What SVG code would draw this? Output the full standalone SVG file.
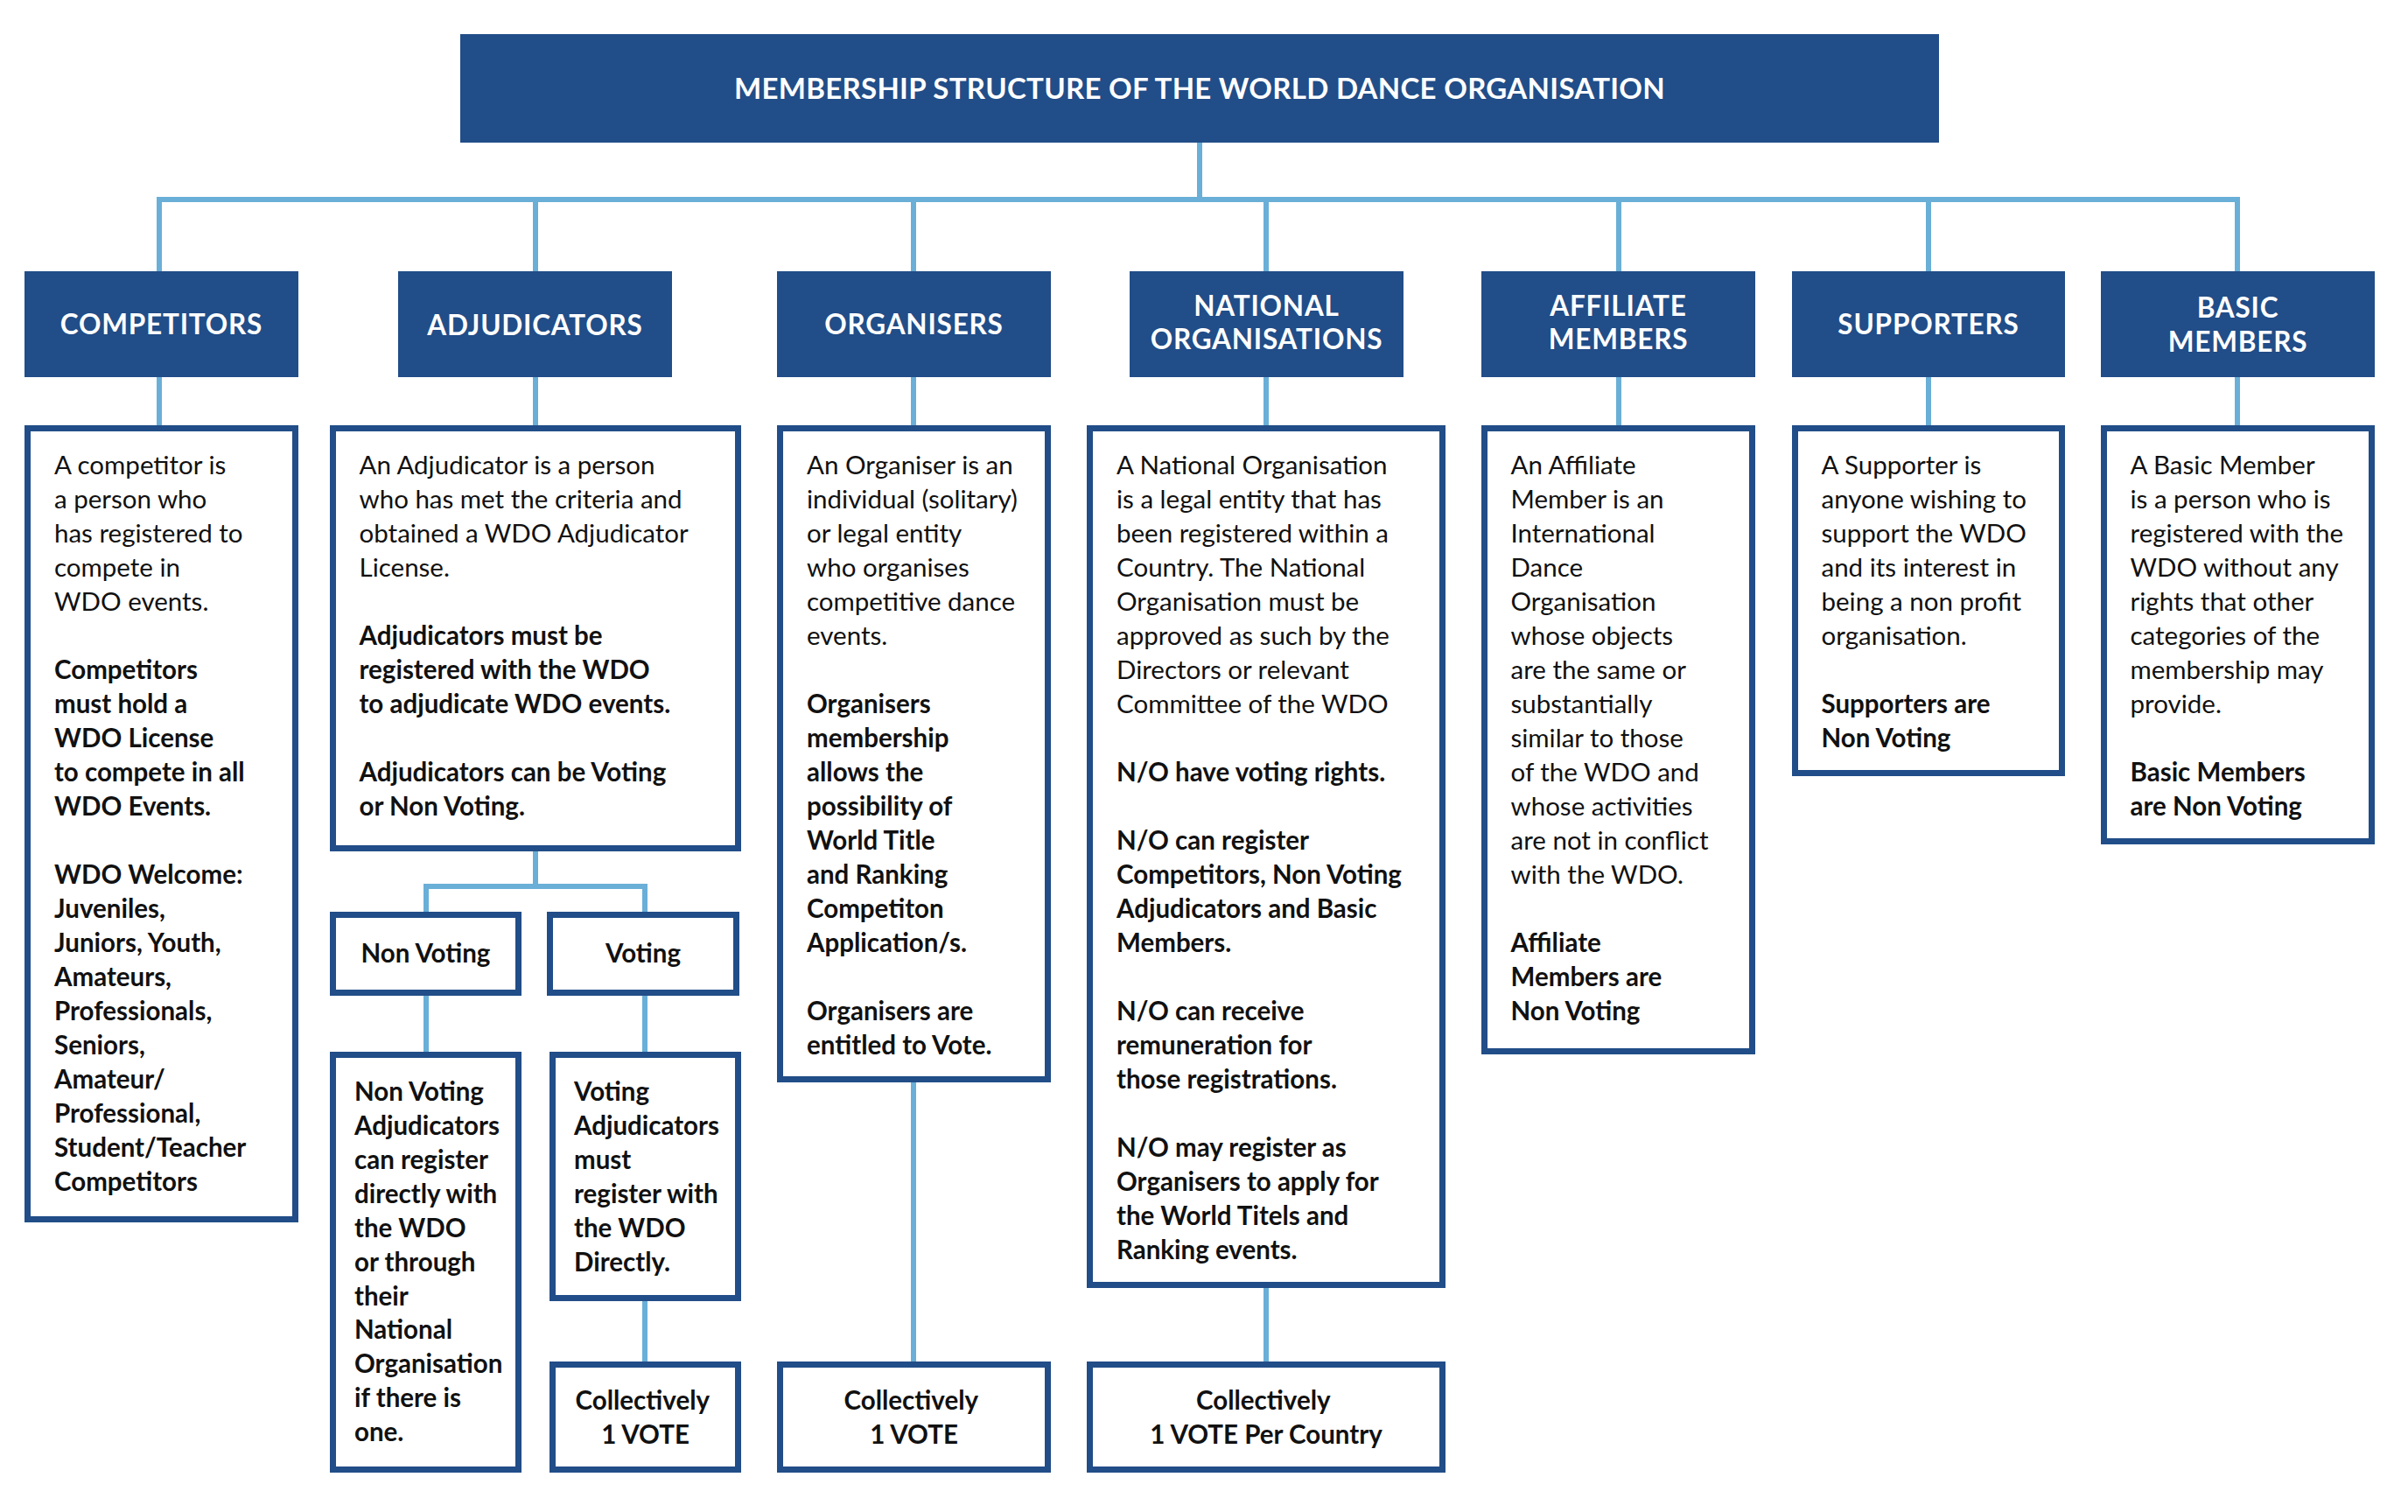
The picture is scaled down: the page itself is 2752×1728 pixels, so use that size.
<svg xmlns="http://www.w3.org/2000/svg" width="2752" height="1728" viewBox="0 0 2752 1728">
<style>
.bg{fill:#ffffff}
.hdr{fill:#214d88}
.box{fill:#ffffff;stroke:#214d88;stroke-width:7}
.conn{fill:none;stroke:#6aafd7;stroke-width:6;stroke-linejoin:miter;stroke-linecap:butt}
.ht{font-family:Lato,"Noto Sans","Liberation Sans",sans-serif;font-weight:700;fill:#ffffff;text-anchor:middle;font-size:31.5px;letter-spacing:0.8px}
.tt{font-size:33px;letter-spacing:0.3px}
.t{font-family:Lato,"Noto Sans","Liberation Sans",sans-serif;font-size:29.5px;fill:#111111}
.b{font-weight:700}
.c{text-anchor:middle}
</style>
<rect class="bg" x="0" y="0" width="2752" height="1728"/>

<g id="connectors">
<path class="conn" d="M1371 163 V228"/>
<path class="conn" d="M182 310 V228 H2557 V310"/>
<path class="conn" d="M612 228 V310 M1044 228 V310 M1447 228 V310 M1850 228 V310 M2204 228 V310"/>
<path class="conn" d="M182 431 V486 M612 431 V486 M1044 431 V486 M1447 431 V486 M1850 431 V486 M2204 431 V486 M2557 431 V486"/>
<path class="conn" d="M612 973 V1013"/>
<path class="conn" d="M487 1043 V1013 H737 V1043"/>
<path class="conn" d="M487 1138 V1202 M737 1138 V1202 M737 1487 V1556"/>
<path class="conn" d="M1044 1237 V1556 M1447 1472 V1556"/>
</g>

<g id="title">
<rect class="hdr" x="526" y="39" width="1690" height="124"/>
<text class="ht tt" x="1371" y="113">MEMBERSHIP STRUCTURE OF THE WORLD DANCE ORGANISATION</text>
</g>

<g id="cat-competitors">
<rect class="hdr" x="28" y="310" width="313" height="121"/>
<text class="ht" x="184.5" y="381.5">COMPETITORS</text>
</g>
<g id="cat-adjudicators">
<rect class="hdr" x="455" y="310" width="313" height="121"/>
<text class="ht" x="611.5" y="382.5">ADJUDICATORS</text>
</g>
<g id="cat-organisers">
<rect class="hdr" x="888" y="310" width="313" height="121"/>
<text class="ht" x="1044.5" y="381.5">ORGANISERS</text>
</g>
<g id="cat-national">
<rect class="hdr" x="1291" y="310" width="313" height="121"/>
<text class="ht" x="1447.5" y="360.7">NATIONAL</text>
<text class="ht" x="1447.5" y="399.3">ORGANISATIONS</text>
</g>
<g id="cat-affiliate">
<rect class="hdr" x="1693" y="310" width="313" height="121"/>
<text class="ht" x="1849.5" y="360.7">AFFILIATE</text>
<text class="ht" x="1849.5" y="399.3">MEMBERS</text>
</g>
<g id="cat-supporters">
<rect class="hdr" x="2048" y="310" width="312" height="121"/>
<text class="ht" x="2204" y="381.5">SUPPORTERS</text>
</g>
<g id="cat-basic">
<rect class="hdr" x="2401" y="310" width="313" height="121"/>
<text class="ht" x="2557.5" y="362.7">BASIC</text>
<text class="ht" x="2557.5" y="402">MEMBERS</text>
</g>

<g id="desc-competitors">
<rect class="box" x="31.5" y="489.5" width="306" height="904"/>
<text class="t" x="62">
<tspan x="62" y="542">A competitor is</tspan>
<tspan x="62" y="581">a person who</tspan>
<tspan x="62" y="620">has registered to</tspan>
<tspan x="62" y="659">compete in</tspan>
<tspan x="62" y="698">WDO events.</tspan>
</text>
<text class="t b" x="62">
<tspan x="62" y="776">Competitors</tspan>
<tspan x="62" y="815">must hold a</tspan>
<tspan x="62" y="854">WDO License</tspan>
<tspan x="62" y="893">to compete in all</tspan>
<tspan x="62" y="932">WDO Events.</tspan>
<tspan x="62" y="1010">WDO Welcome:</tspan>
<tspan x="62" y="1049">Juveniles,</tspan>
<tspan x="62" y="1088">Juniors, Youth,</tspan>
<tspan x="62" y="1127">Amateurs,</tspan>
<tspan x="62" y="1166">Professionals,</tspan>
<tspan x="62" y="1205">Seniors,</tspan>
<tspan x="62" y="1244">Amateur/</tspan>
<tspan x="62" y="1283">Professional,</tspan>
<tspan x="62" y="1322">Student/Teacher</tspan>
<tspan x="62" y="1361">Competitors</tspan>
</text>
</g>

<g id="desc-adjudicators">
<rect class="box" x="380.5" y="489.5" width="463" height="480"/>
<text class="t" x="410.5">
<tspan x="410.5" y="542">An Adjudicator is a person</tspan>
<tspan x="410.5" y="581">who has met the criteria and</tspan>
<tspan x="410.5" y="620">obtained a WDO Adjudicator</tspan>
<tspan x="410.5" y="659">License.</tspan>
</text>
<text class="t b" x="410.5">
<tspan x="410.5" y="737">Adjudicators must be</tspan>
<tspan x="410.5" y="776">registered with the WDO</tspan>
<tspan x="410.5" y="815">to adjudicate WDO events.</tspan>
<tspan x="410.5" y="893">Adjudicators can be Voting</tspan>
<tspan x="410.5" y="932">or Non Voting.</tspan>
</text>
</g>

<g id="non-voting">
<rect class="box" x="380.5" y="1045.5" width="212" height="89"/>
<text class="t b c" x="486.5" y="1100">Non Voting</text>
</g>
<g id="voting">
<rect class="box" x="628.5" y="1045.5" width="213" height="89"/>
<text class="t b c" x="735" y="1100">Voting</text>
</g>

<g id="desc-non-voting">
<rect class="box" x="380.5" y="1205.5" width="212" height="474"/>
<text class="t b" x="405">
<tspan x="405" y="1258">Non Voting</tspan>
<tspan x="405" y="1297">Adjudicators</tspan>
<tspan x="405" y="1336">can register</tspan>
<tspan x="405" y="1375">directly with</tspan>
<tspan x="405" y="1414">the WDO</tspan>
<tspan x="405" y="1452.5">or through</tspan>
<tspan x="405" y="1491.5">their</tspan>
<tspan x="405" y="1530">National</tspan>
<tspan x="405" y="1569">Organisation</tspan>
<tspan x="405" y="1608">if there is</tspan>
<tspan x="405" y="1647">one.</tspan>
</text>
</g>

<g id="desc-voting">
<rect class="box" x="631.5" y="1205.5" width="212" height="278"/>
<text class="t b" x="656">
<tspan x="656" y="1258">Voting</tspan>
<tspan x="656" y="1297">Adjudicators</tspan>
<tspan x="656" y="1336">must</tspan>
<tspan x="656" y="1375">register with</tspan>
<tspan x="656" y="1414">the WDO</tspan>
<tspan x="656" y="1452.5">Directly.</tspan>
</text>
</g>

<g id="vote-adjudicators">
<rect class="box" x="631.5" y="1559.5" width="212" height="120"/>
<text class="t b c" x="737.5">
<tspan x="737.5" y="1611">Collectively</tspan>
<tspan x="737.5" y="1650">1 VOTE</tspan>
</text>
</g>

<g id="desc-organisers">
<rect class="box" x="891.5" y="489.5" width="306" height="744"/>
<text class="t" x="922">
<tspan x="922" y="542">An Organiser is an</tspan>
<tspan x="922" y="581">individual (solitary)</tspan>
<tspan x="922" y="620">or legal entity</tspan>
<tspan x="922" y="659">who organises</tspan>
<tspan x="922" y="698">competitive dance</tspan>
<tspan x="922" y="737">events.</tspan>
</text>
<text class="t b" x="922">
<tspan x="922" y="815">Organisers</tspan>
<tspan x="922" y="854">membership</tspan>
<tspan x="922" y="893">allows the</tspan>
<tspan x="922" y="932">possibility of</tspan>
<tspan x="922" y="971">World Title</tspan>
<tspan x="922" y="1010">and Ranking</tspan>
<tspan x="922" y="1049">Competiton</tspan>
<tspan x="922" y="1088">Application/s.</tspan>
<tspan x="922" y="1166">Organisers are</tspan>
<tspan x="922" y="1205">entitled to Vote.</tspan>
</text>
</g>

<g id="vote-organisers">
<rect class="box" x="891.5" y="1559.5" width="306" height="120"/>
<text class="t b c" x="1044.5">
<tspan x="1044.5" y="1611">Collectively</tspan>
<tspan x="1044.5" y="1650">1 VOTE</tspan>
</text>
</g>

<g id="desc-national">
<rect class="box" x="1245.5" y="489.5" width="403" height="979"/>
<text class="t" x="1276">
<tspan x="1276" y="542">A National Organisation</tspan>
<tspan x="1276" y="581">is a legal entity that has</tspan>
<tspan x="1276" y="620">been registered within a</tspan>
<tspan x="1276" y="659">Country. The National</tspan>
<tspan x="1276" y="698">Organisation must be</tspan>
<tspan x="1276" y="737">approved as such by the</tspan>
<tspan x="1276" y="776">Directors or relevant</tspan>
<tspan x="1276" y="815">Committee of the WDO</tspan>
</text>
<text class="t b" x="1276">
<tspan x="1276" y="893">N/O have voting rights.</tspan>
<tspan x="1276" y="971">N/O can register</tspan>
<tspan x="1276" y="1010">Competitors, Non Voting</tspan>
<tspan x="1276" y="1049">Adjudicators and Basic</tspan>
<tspan x="1276" y="1088">Members.</tspan>
<tspan x="1276" y="1166">N/O can receive</tspan>
<tspan x="1276" y="1205">remuneration for</tspan>
<tspan x="1276" y="1244">those registrations.</tspan>
<tspan x="1276" y="1322">N/O may register as</tspan>
<tspan x="1276" y="1361">Organisers to apply for</tspan>
<tspan x="1276" y="1400">the World Titels and</tspan>
<tspan x="1276" y="1439">Ranking events.</tspan>
</text>
</g>

<g id="vote-national">
<rect class="box" x="1245.5" y="1559.5" width="403" height="120"/>
<text class="t b c" x="1447">
<tspan x="1447" y="1611">Collectively</tspan>
<tspan x="1447" y="1650">1 VOTE Per Country</tspan>
</text>
</g>

<g id="desc-affiliate">
<rect class="box" x="1696.5" y="489.5" width="306" height="712"/>
<text class="t" x="1726.5">
<tspan x="1726.5" y="542">An Affiliate</tspan>
<tspan x="1726.5" y="581">Member is an</tspan>
<tspan x="1726.5" y="620">International</tspan>
<tspan x="1726.5" y="659">Dance</tspan>
<tspan x="1726.5" y="698">Organisation</tspan>
<tspan x="1726.5" y="737">whose objects</tspan>
<tspan x="1726.5" y="776">are the same or</tspan>
<tspan x="1726.5" y="815">substantially</tspan>
<tspan x="1726.5" y="854">similar to those</tspan>
<tspan x="1726.5" y="893">of the WDO and</tspan>
<tspan x="1726.5" y="932">whose activities</tspan>
<tspan x="1726.5" y="971">are not in conflict</tspan>
<tspan x="1726.5" y="1010">with the WDO.</tspan>
</text>
<text class="t b" x="1726.5">
<tspan x="1726.5" y="1088">Affiliate</tspan>
<tspan x="1726.5" y="1127">Members are</tspan>
<tspan x="1726.5" y="1166">Non Voting</tspan>
</text>
</g>

<g id="desc-supporters">
<rect class="box" x="2051.5" y="489.5" width="305" height="394"/>
<text class="t" x="2081.5">
<tspan x="2081.5" y="542">A Supporter is</tspan>
<tspan x="2081.5" y="581">anyone wishing to</tspan>
<tspan x="2081.5" y="620">support the WDO</tspan>
<tspan x="2081.5" y="659">and its interest in</tspan>
<tspan x="2081.5" y="698">being a non profit</tspan>
<tspan x="2081.5" y="737">organisation.</tspan>
</text>
<text class="t b" x="2081.5">
<tspan x="2081.5" y="815">Supporters are</tspan>
<tspan x="2081.5" y="854">Non Voting</tspan>
</text>
</g>

<g id="desc-basic">
<rect class="box" x="2404.5" y="489.5" width="306" height="472"/>
<text class="t" x="2434.5">
<tspan x="2434.5" y="542">A Basic Member</tspan>
<tspan x="2434.5" y="581">is a person who is</tspan>
<tspan x="2434.5" y="620">registered with the</tspan>
<tspan x="2434.5" y="659">WDO without any</tspan>
<tspan x="2434.5" y="698">rights that other</tspan>
<tspan x="2434.5" y="737">categories of the</tspan>
<tspan x="2434.5" y="776">membership may</tspan>
<tspan x="2434.5" y="815">provide.</tspan>
</text>
<text class="t b" x="2434.5">
<tspan x="2434.5" y="893">Basic Members</tspan>
<tspan x="2434.5" y="932">are Non Voting</tspan>
</text>
</g>
</svg>
